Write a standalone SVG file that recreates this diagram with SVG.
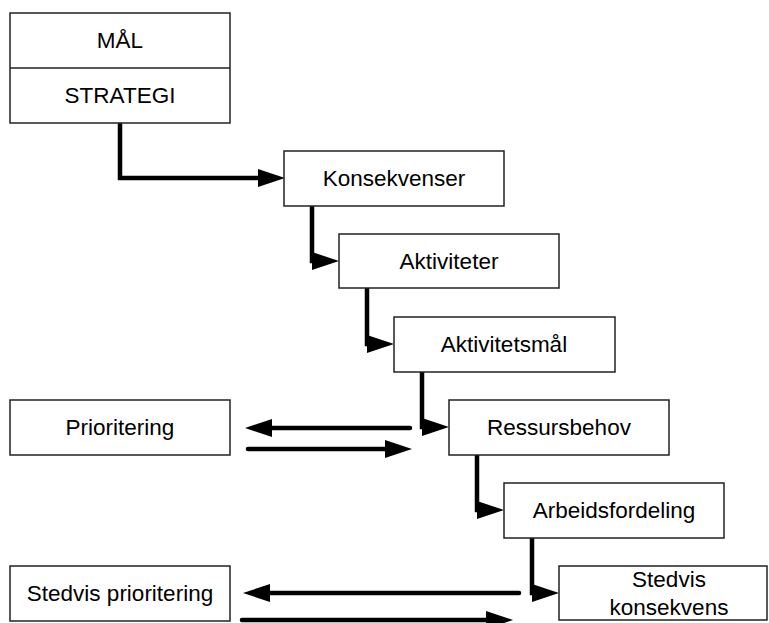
<svg xmlns="http://www.w3.org/2000/svg" width="769" height="623" viewBox="0 0 769 623">
<style>
.box{fill:#fff;stroke:#222;stroke-width:1.5}
.lbl{font-family:"Liberation Sans",Arial,sans-serif;font-size:22.5px;fill:#000;text-anchor:middle}
.con{fill:none;stroke:#000;stroke-width:4.5;marker-end:url(#ah)}
.straight{stroke-linecap:round}
</style>
<defs>
<marker id="ah" markerUnits="userSpaceOnUse" markerWidth="27" markerHeight="18" refX="1" refY="9" orient="auto" overflow="visible">
<path d="M0,0 L27,9 L0,18 z" fill="#000"/>
</marker>
</defs>
<rect width="769" height="623" fill="#fff"/>
<g id="connectors">
<path class="con" d="M120 123 V178 H259"/>
<path class="con" d="M312 206 V261 H313"/>
<path class="con" d="M367 288 V344 H368"/>
<path class="con" d="M422 372 V427 H423"/>
<path class="con" d="M477 455 V510 H478"/>
<path class="con" d="M532 538 V593 H533"/>
<path class="con straight" d="M410 428 H271"/>
<path class="con straight" d="M248 449 H386"/>
<path class="con straight" d="M519 593 H269"/>
<path class="con straight" d="M242 620 H487"/>
</g>
<g id="node-mal-strategi">
<rect class="box" x="10" y="13" width="220" height="110"/>
<line x1="10" y1="68" x2="230" y2="68" stroke="#222" stroke-width="1.5"/>
<text class="lbl" x="120" y="48">MÅL</text>
<text class="lbl" x="120" y="103">STRATEGI</text>
</g>
<g id="node-konsekvenser">
<rect class="box" x="284" y="151" width="220" height="55"/>
<text class="lbl" x="394" y="186">Konsekvenser</text>
</g>
<g id="node-aktiviteter">
<rect class="box" x="339" y="234" width="220" height="54"/>
<text class="lbl" x="449" y="269">Aktiviteter</text>
</g>
<g id="node-aktivitetsmal">
<rect class="box" x="394" y="317" width="221" height="55"/>
<text class="lbl" x="504" y="352">Aktivitetsmål</text>
</g>
<g id="node-ressursbehov">
<rect class="box" x="449" y="400" width="220" height="55"/>
<text class="lbl" x="559" y="435">Ressursbehov</text>
</g>
<g id="node-arbeidsfordeling">
<rect class="box" x="504" y="483" width="220" height="55"/>
<text class="lbl" x="614" y="518">Arbeidsfordeling</text>
</g>
<g id="node-stedvis-konsekvens">
<rect class="box" x="559" y="566" width="208" height="54"/>
<text class="lbl" x="669" y="587">Stedvis</text>
<text class="lbl" x="669" y="615">konsekvens</text>
</g>
<g id="node-prioritering">
<rect class="box" x="10" y="400" width="220" height="55"/>
<text class="lbl" x="120" y="435">Prioritering</text>
</g>
<g id="node-stedvis-prioritering">
<rect class="box" x="10" y="566" width="220" height="55"/>
<text class="lbl" x="120" y="601">Stedvis prioritering</text>
</g>
</svg>
